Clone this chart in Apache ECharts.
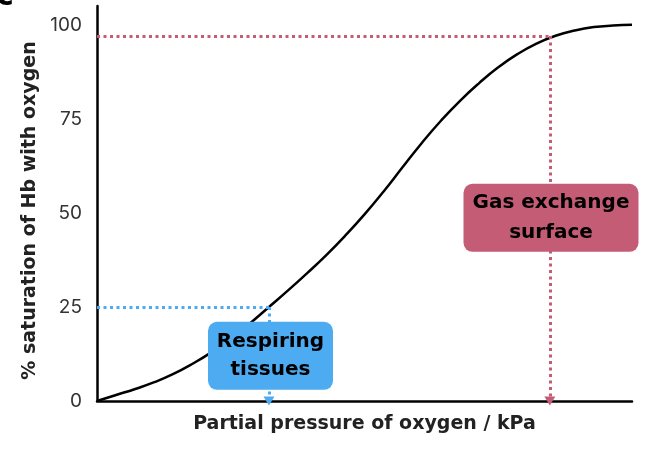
<!DOCTYPE html>
<html>
<head>
<meta charset="utf-8">
<script src="https://cdn.jsdelivr.net/npm/echarts@6/dist/echarts.min.js"></script>
<style>
html,body{margin:0;padding:0;background:#fff;}
#chart{width:670px;height:456px;}
</style>
</head>
<body>
<div id="chart"></div>
<script>
// Oxygen dissociation curve
const pressure = [0, 0.5, 1, 1.5, 2, 2.5, 3, 3.5, 4, 4.5, 5, 5.5, 6, 6.5, 7, 7.5, 8, 8.5, 9, 9.5, 10, 10.5, 11, 11.5, 12, 12.5, 13, 13.5, 14];
const saturation = [0, 1.6, 3.2, 5.0, 7.2, 9.9, 13.0, 16.6, 20.6, 25.0, 29.4, 34.0, 38.8, 44.0, 49.6, 55.7, 62.2, 68.6, 74.5, 79.8, 84.5, 88.7, 92.2, 95.0, 97.1, 98.5, 99.4, 99.8, 100];
const yTicks = [0, 25, 50, 75, 100];

// Annotations
const tissuesPoint = [4.5, 25];
const lungPoint = [11.85, 97];
const tissuesLabel = ['Respiring', 'tissues'];
const lungLabel = ['Gas exchange', 'surface'];
const tissuesBoxPos = [4.54, 12.0];
const lungBoxPos = [11.88, 48.7];

const pink = '#c55c76';
const blue = '#4dabf2';

const chart = echarts.init(document.getElementById('chart'));
const boldFam = '"DejaVu Sans", sans-serif';

function guide(pt, color) {
  const ls = {color: color, width: 3, type: [3, 3.5]};
  return [
    [{coord: [0, pt[1]], symbol: 'none', lineStyle: ls}, {coord: pt, symbol: 'none'}],
    [{coord: pt, symbol: 'none', lineStyle: ls}, {coord: [pt[0], 0], symbol: 'triangle', symbolSize: [11, 9], symbolRotate: 180}]
  ];
}

chart.setOption({
  animation: false,
  graphic: [{
    type: 'text', left: -4, top: -18,
    style: {text: 'c', font: 'bold 30px ' + boldFam, fill: '#000'}
  }],
  grid: {left: 97, right: 38, top: 6, bottom: 55},
  xAxis: {
    type: 'value', min: 0, max: 14,
    name: 'Partial pressure of oxygen / kPa',
    nameLocation: 'middle', nameGap: 14,
    nameTextStyle: {fontFamily: boldFam, fontWeight: 'bold', fontSize: 19, color: '#222'},
    axisLine: {onZero: false, lineStyle: {color: '#000', width: 2.5}},
    axisTick: {show: false}, axisLabel: {show: false}, splitLine: {show: false}
  },
  yAxis: {
    type: 'value', min: 0, max: 105, interval: 25,
    name: '% saturation of Hb with oxygen',
    nameLocation: 'middle', nameGap: 55,
    nameTextStyle: {fontFamily: boldFam, fontWeight: 'bold', fontSize: 19, color: '#222', padding: [0, 14, 0, 0]},
    axisLine: {show: true, lineStyle: {color: '#000', width: 2.5}},
    axisTick: {show: false}, splitLine: {show: false},
    axisLabel: {
      showMaxLabel: false, margin: 15, fontFamily: 'Inter', fontSize: 19, color: '#333',
      formatter: v => yTicks.includes(v) ? String(v) : ''
    }
  },
  series: [
    {
      type: 'line', data: pressure.map((p, i) => [p, saturation[i]]),
      smooth: true, showSymbol: false, z: 3,
      lineStyle: {color: '#000', width: 2.5},
      markLine: {silent: true, animation: false, label: {show: false}, data: guide(lungPoint, pink).concat(guide(tissuesPoint, blue))}
    },
    {
      type: 'scatter', z: 10, symbolSize: 0,
      itemStyle: {opacity: 1},
      data: [
        {value: tissuesBoxPos, label: {backgroundColor: blue, width: 125, height: 68, lineHeight: 28, formatter: tissuesLabel.join('\n')}},
        {value: lungBoxPos, label: {backgroundColor: pink, width: 175, height: 68, lineHeight: 30, formatter: lungLabel.join('\n')}}
      ],
      label: {
        show: true, position: 'inside', align: 'center', verticalAlign: 'middle', opacity: 1,
        borderRadius: 9, padding: 0,
        fontFamily: boldFam, fontWeight: 'bold', fontSize: 20, color: '#000'
      }
    }
  ]
});
</script>
</body>
</html>
